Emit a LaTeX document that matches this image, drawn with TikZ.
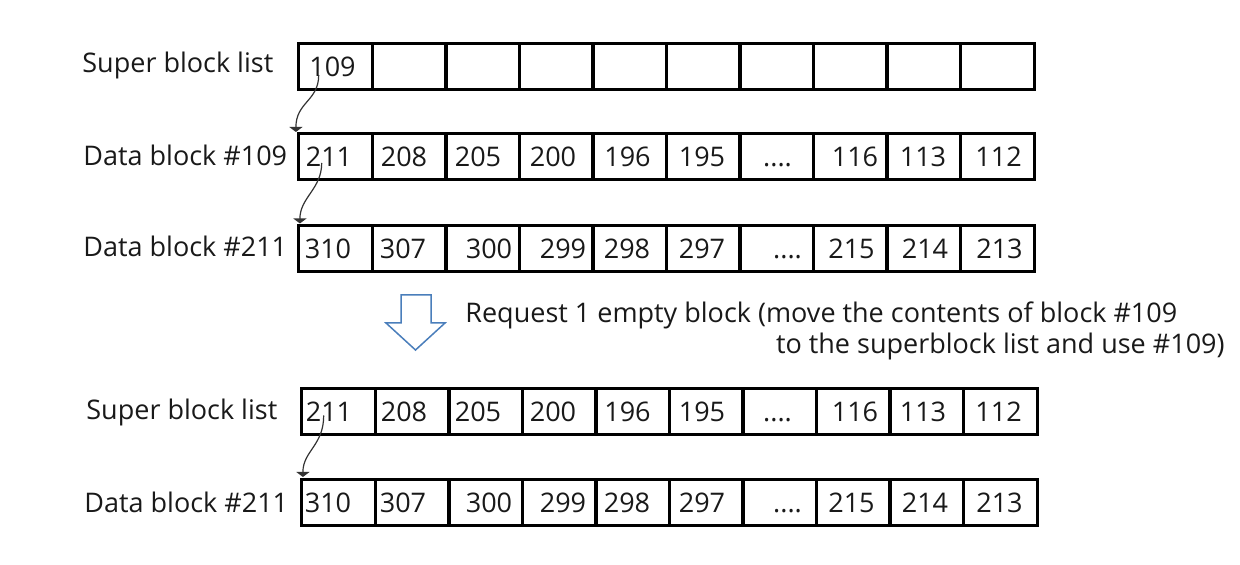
\documentclass[tikz,border=0pt]{standalone}
\usepackage{fontspec}
\setmainfont{Open Sans}
\usepackage{xcolor}
\usepackage{tikz}
\usetikzlibrary{arrows.meta,calc}
\definecolor{arrowblue}{RGB}{74,126,187}
\newcommand{\elide}{....}

\begin{document}
\begin{tikzpicture}[x=0.5pt, y=-0.5pt,
    cell/.style={draw, line width=1.5pt, minimum width=36.8pt, minimum height=23pt,
                 inner sep=0pt, outer sep=0pt},
    num/.style={inner sep=0pt, text height=9.6pt, text depth=0pt, text=black!90},
    lbl/.style={inner sep=0pt, anchor=base west, text=black!90},
    link/.style={-{Triangle[width=6.5pt,length=2.5pt]}, line width=0.6pt, black!80},
    every node/.style={font=\fontsize{13.5pt}{16pt}\selectfont}
]
\useasboundingbox (0,0) rectangle (1240,565);

\node[lbl] (lsl)  at (82,73)  {Super block list};
\node[lbl] (ldx)  at (83,166) {Data block \#109};
\node[lbl] (ldy)  at (83,257) {Data block \#211};
\node[lbl] (lnsl) at (86,420) {Super block list};
\node[lbl] (lndy) at (84,513) {Data block \#211};

\foreach \i in {1,...,10} {
    \node[cell] (sl\i)  at (262.2+73.5*\i, 66.5)  {};
    \node[cell] (dx\i)  at (262.2+73.5*\i, 156.5) {};
    \node[cell] (dy\i)  at (262.2+73.5*\i, 249)   {};
    \node[cell] (nsl\i) at (265.2+73.5*\i, 411.5) {};
    \node[cell] (ndy\i) at (265.2+73.5*\i, 503)   {};
}
\node[num] (slv1) at (332.5,66.5) {109};
\foreach \v/\x [count=\i] in {211/329,208/404,205/478,200/553,196/627.5,195/702,\elide/777.5,116/855,113/923,112/998.5} {
    \node[num] (dxv\i)  at (\x,156.5) {\v};
    \node[num] (nslv\i) at (\x,411.5) {\v};
}
\foreach \v/\x [count=\i] in {310/328,307/403,300/489,299/563,298/627,297/702,\elide/787.5,215/851.5,214/925,213/999.5} {
    \node[num] (dyv\i)  at (\x,249) {\v};
    \node[num] (ndyv\i) at (\x,503) {\v};
}

\draw[link] ($(sl1.center)+(-17,8.5)$) .. controls +(0,26) and +(0,-30) .. ($(dx1.north west)+(-3,-1.5)$);
\draw[link] ($(dx1.center)+(-14,6.5)$) .. controls +(0,26) and +(0,-26) .. ($(dy1.north west)+(1,-2.5)$);
\draw[link] ($(nsl1.center)+(-15,4)$) .. controls +(0,30) and +(0,-26) .. ($(ndy1.north west)+(1,-3)$);

\draw[arrowblue, line width=0.75pt, fill=white]
    (401,295) -- (431,295) -- (431,323) -- (445,323) -- (415.5,350) -- (386,323) -- (401,323) -- cycle;
\node[lbl] (req1) at (465,323) {Request 1 empty block (move the contents of block \#109};
\node[lbl, anchor=base east] (req2) at (1225,354) {to the superblock list and use \#109)};
\end{tikzpicture}
\end{document}
